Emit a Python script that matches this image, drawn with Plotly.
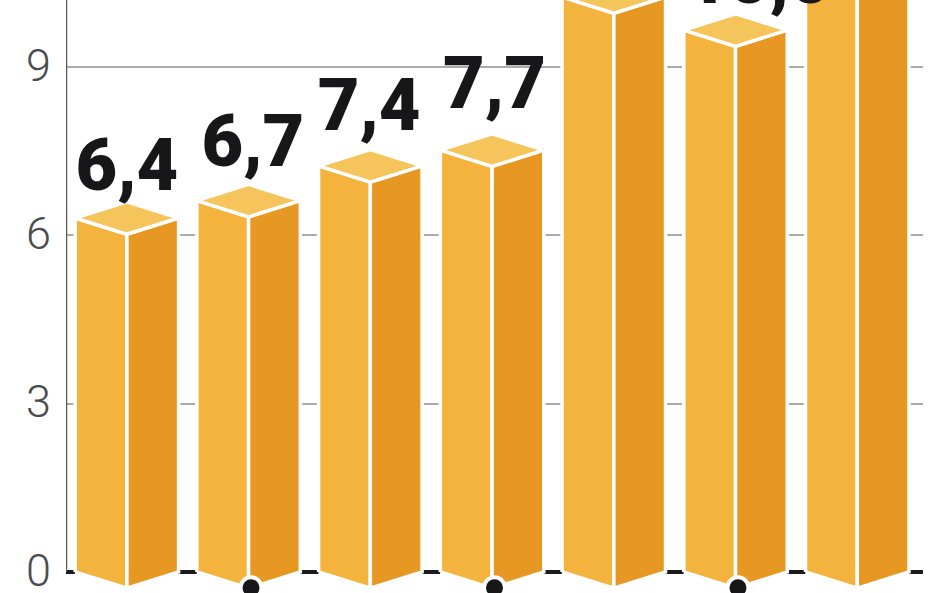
import plotly.graph_objects as go

# Data
value_labels = ["6,4", "6,7", "7,4", "7,7", "10,5", "10,0", "11,0"]
bar_heights = [6.31, 6.62, 7.24, 7.52, 10.25, 9.66, 10.8]
categories = list(range(7))
marked_categories = [1, 3, 5]
axis_ticks = [0, 3, 6, 9]
axis_tick_labels = ["0", "3", "6", "9"]

# Layout and style
W, H = 948, 593
X0, X1 = -0.5, 6.54
Y0, Y1 = -0.374, 10.196
half_w = 0.425
depth = 0.29
label_gap = [0.17, 0.29, 0.32, 0.43, 0.5, 0.17, 0.5]
label_nudge = [0.0, 0.035, -0.01, 0.02, 0.0, 0.19, 0.0]
LEFT, RIGHT, TOP = "#F3B33D", "#E79823", "#F5C45A"
INK = "#17171A"

fig = go.Figure()


def poly(xs, ys, color):
    fig.add_trace(go.Scatter(
        x=xs + xs[:1], y=ys + ys[:1], mode="lines", fill="toself",
        fillcolor=color, line=dict(color="white", width=3.5),
        hoverinfo="skip", showlegend=False))


# y axis line, from zero upwards
fig.add_trace(go.Scatter(x=[X0, X0], y=[0, Y1], mode="lines",
                         line=dict(color="#55585C", width=2.5),
                         hoverinfo="skip", showlegend=False))

for c, h in zip(categories, bar_heights):
    poly([c - half_w, c, c, c - half_w], [0, -depth, h - depth, h], LEFT)
    poly([c, c + half_w, c + half_w, c], [-depth, 0, h, h - depth], RIGHT)
    poly([c - half_w, c, c + half_w, c], [h, h - depth, h, h + depth], TOP)

fig.add_trace(go.Scatter(
    x=[c + n for c, n in zip(categories, label_nudge)],
    y=[h + g for h, g in zip(bar_heights, label_gap)],
    text=value_labels, mode="text", textposition="top center",
    textfont=dict(family="Roboto", size=72, color=INK, weight=900),
    hoverinfo="skip", showlegend=False, cliponaxis=True))

fig.add_trace(go.Scatter(
    x=[c + 0.02 for c in marked_categories],
    y=[-0.28] * len(marked_categories), mode="markers",
    marker=dict(size=21, color=INK, line=dict(color="white", width=4)),
    hoverinfo="skip", showlegend=False, cliponaxis=False))

fig.update_layout(
    width=W, height=H, margin=dict(l=0, r=0, t=0, b=0),
    paper_bgcolor="white", plot_bgcolor="white", showlegend=False,
    xaxis=dict(domain=[66 / W, 923 / W], range=[X0, X1], visible=False),
    yaxis=dict(range=[Y0, Y1], tickvals=axis_ticks, ticktext=axis_tick_labels,
               ticks="", showline=False, showgrid=True, gridcolor="#ABABAB",
               gridwidth=2, zeroline=True, zerolinecolor="#1B1B1D",
               zerolinewidth=4, automargin=False, ticklabelstandoff=14,
               ticklabelshift=-2, ticklabeloverflow="allow",
               tickfont=dict(family="Roboto", size=45, color="#4A4D50",
                             weight=300)),
)

fig.write_html("out.html", config={"displayModeBar": False},
               post_script="document.body.style.margin='0';")
